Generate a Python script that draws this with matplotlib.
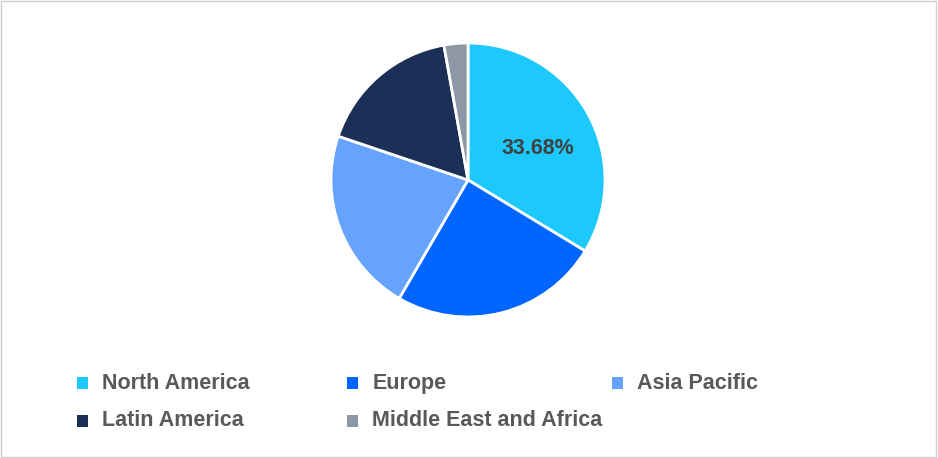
import matplotlib
matplotlib.use("Agg")
import matplotlib.pyplot as plt
from matplotlib.patches import Rectangle

labels = ["North America", "Europe", "Asia Pacific", "Latin America", "Middle East and Africa"]
values = [33.68, 24.7, 21.8, 17.0, 2.82]
colors = ["#1CC8FC", "#0066FF", "#66A3FF", "#1B2F57", "#8E97A6"]

fig = plt.figure(figsize=(9.38, 4.58), dpi=100)
fig.patches.append(Rectangle((0.001, 0.002), 0.997, 0.995, transform=fig.transFigure,
                             fill=False, edgecolor="#D0D0D0", linewidth=1))
ax = fig.add_axes([0.3529, 0.3079, 0.2921, 0.5983])
wedges, _ = ax.pie(values, colors=colors, startangle=90, counterclock=False, radius=1,
                   wedgeprops=dict(edgecolor="white", linewidth=2))
ax.set_xlim(-1, 1)
ax.set_ylim(-1, 1)
ax.text(0.51, 0.23, f"{values[0]:.2f}%", ha="center", va="center",
        fontsize=15.5, fontweight="bold", color="#404040", family="Liberation Sans")
ax.set_aspect("equal")
ax.axis("off")

pos = [(0.082, 0.163), (0.370, 0.163), (0.652, 0.163), (0.082, 0.081), (0.370, 0.081)]
for (x, y), lab, c in zip(pos, labels, colors):
    fig.patches.append(Rectangle((x, y - 0.013), 0.012, 0.026, transform=fig.transFigure,
                                 facecolor=c, edgecolor="none"))
    fig.text(x + 0.027, y, lab, fontsize=15.5, fontweight="bold", color="#595959",
             va="center", ha="left", family="Liberation Sans")

fig.savefig("out.png", dpi=100)
